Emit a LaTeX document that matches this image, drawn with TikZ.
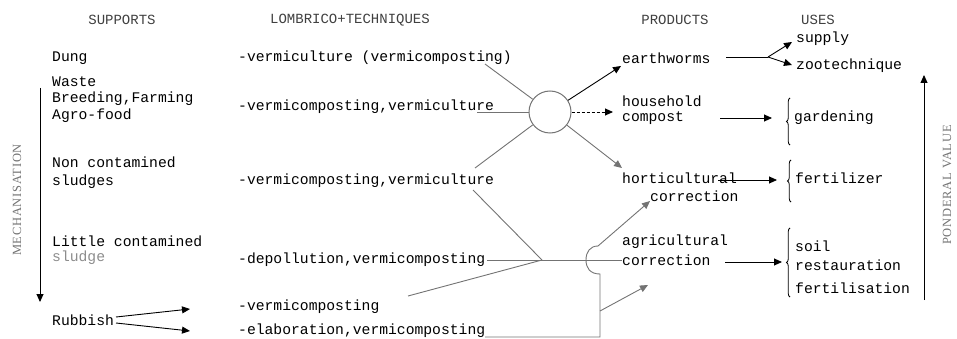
\documentclass[tikz,border=0pt]{standalone}
\usepackage{fontspec}
\setmonofont{Liberation Mono}
\newfontfamily\lserif[LetterSpace=6]{Liberation Serif}
\usetikzlibrary{arrows.meta,decorations.pathreplacing}
\begin{document}
\begin{tikzpicture}[x=1pt,y=-1pt,
  txt/.style={anchor=west,inner sep=0pt,font=\fontsize{14.7}{16}\ttfamily},
  hdr/.style={anchor=center,inner sep=0pt,font=\fontsize{14}{16}\ttfamily,text=black!75},
  side/.style={rotate=90,inner sep=0pt,font=\lserif\fontsize{12.5}{14}\selectfont,text=black!55},
  gl/.style={draw=black!55,line width=0.9pt},
  bl/.style={draw=black,line width=0.9pt},
  tip/.style={-{Triangle[length=8pt,width=7pt]}},
  br/.style={decorate,decoration={brace,amplitude=3.5pt,mirror},draw=black,line width=0.8pt}
]
\useasboundingbox (0,0) rectangle (957,339);

% headers
\node[hdr] (hS) at (122,20) {SUPPORTS};
\node[hdr] (hL) at (350,20) {LOMBRICO+TECHNIQUES};
\node[hdr] (hP) at (675,20) {PRODUCTS};
\node[hdr] (hU) at (818,20) {USES};

% supports
\node[txt] (dung) at (52,58) {Dung};
\node[txt] (waste) at (52,82) {Waste};
\node[txt] (breed) at (52,99) {Breeding,Farming};
\node[txt] (agro) at (52,116) {Agro-food};
\node[txt] (nonc) at (52,162) {Non contamined};
\node[txt] (sludges) at (52,182) {sludges};
\node[txt] (little) at (52,241) {Little contamined};
\node[txt,text=black!45] (sludge) at (52,258) {sludge};
\node[txt] (rub) at (52,320) {Rubbish};

% techniques
\node[txt] (t1) at (238,58) {-vermiculture (vermicomposting)};
\node[txt] (t2) at (238,107) {-vermicomposting,vermiculture};
\node[txt] (t3) at (238,181) {-vermicomposting,vermiculture};
\node[txt] (t4) at (238,260) {-depollution,vermicomposting};
\node[txt] (t5) at (238,307) {-vermicomposting};
\node[txt] (t6) at (238,331) {-elaboration,vermicomposting};

% products
\node[txt] (earth) at (622,58) {earthworms};
\node[txt] (house) at (622,101) {household};
\node[txt] (compost) at (622,118) {compost};
\node[txt] (horti) at (622,178) {horticultural};
\node[txt] (hcorr) at (650,196) {correction};
\node[txt] (agri) at (622,242) {agricultural};
\node[txt] (acorr) at (622,260) {correction};

% uses
\node[txt] (supply) at (796,39) {supply};
\node[txt] (zoo) at (796,66) {zootechnique};
\node[txt] (garden) at (794,118) {gardening};
\node[txt] (fert) at (795,178) {fertilizer};
\node[txt] (soil) at (795,246) {soil};
\node[txt] (rest) at (795,265) {restauration};
\node[txt] (fertil) at (795,288) {fertilisation};

% side labels
\node[side] (mech) at (17,200) {MECHANISATION};
\node[side] (pond) at (947,185) {PONDERAL VALUE};
\coordinate (m1) at (40,88);
\coordinate (m2) at (40,302);
\draw[bl,tip] (m1) -- (m2);
\coordinate (p1) at (924,300);
\coordinate (p2) at (924,75);
\draw[bl,tip] (p1) -- (p2);

% rubbish arrows
\coordinate (r1) at (116,317);
\coordinate (r2) at (116,323);
\coordinate (r1e) at (190,309);
\coordinate (r2e) at (190,331);
\draw[bl,tip] (r1) -- (r1e);
\draw[bl,tip] (r2) -- (r2e);

% circle hub
\node[circle,draw=black!55,line width=1pt,minimum size=42pt,inner sep=0pt] (hub) at (550,112) {};
\coordinate (c1) at (485,64);
\coordinate (c2) at (477,112);
\coordinate (c3) at (475,168);
\draw[gl] (c1) -- (hub);
\draw[gl] (c2) -- (hub);
\draw[gl] (c3) -- (hub);
\coordinate (e1) at (621,66);
\coordinate (e2) at (613,112);
\coordinate (e3) at (622,168);
\draw[bl,tip] (hub) -- (e1);
\draw[bl,tip,densely dashed] (hub.east) -- (e2);
\draw[gl,tip] (hub) -- (e3);

% junction
\coordinate (J) at (542,260);
\coordinate (j1) at (473,190);
\coordinate (j2) at (487,260);
\coordinate (j3) at (408,296);
\draw[gl] (j1) -- (J);
\draw[gl] (j2) -- (J);
\draw[gl] (j3) -- (J);
\draw[gl] (J) -- (acorr.west);

% vertical with hump
\coordinate (v0) at (485,337);
\coordinate (v1) at (600,337);
\coordinate (v2) at (600,274);
\coordinate (v3) at (598,246);
\coordinate (hce) at (650,201);
\coordinate (vb) at (600,311);
\coordinate (vbe) at (648,285);
\draw[gl] (v0) -- (v1) -- (v2) .. controls (590,274) and (586,268) .. (586,260)
  .. controls (586,252) and (590,246) .. (v3);
\draw[gl,tip] (v3) -- (hce);
\draw[gl,tip] (vb) -- (vbe);

% product -> uses
\coordinate (f0) at (768,57);
\coordinate (f1) at (792,42);
\coordinate (f2) at (792,65);
\draw[bl] (726,57) coordinate (ew) -- (f0);
\draw[bl,tip] (f0) -- (f1);
\draw[bl,tip] (f0) -- (f2);
\coordinate (g0) at (720,118);
\coordinate (g1) at (772,118);
\draw[bl,tip] (g0) -- (g1);
\coordinate (h0) at (718,180);
\coordinate (h1) at (777,180);
\draw[bl,tip] (h0) -- (h1);
\coordinate (a0) at (725,262);
\coordinate (a1) at (782,262);
\draw[bl,tip] (a0) -- (a1);

% braces
\draw[br] (790,98) -- (790,145);
\draw[br] (791,160) -- (791,202);
\draw[br] (790,228) -- (790,297);
\end{tikzpicture}
\end{document}
